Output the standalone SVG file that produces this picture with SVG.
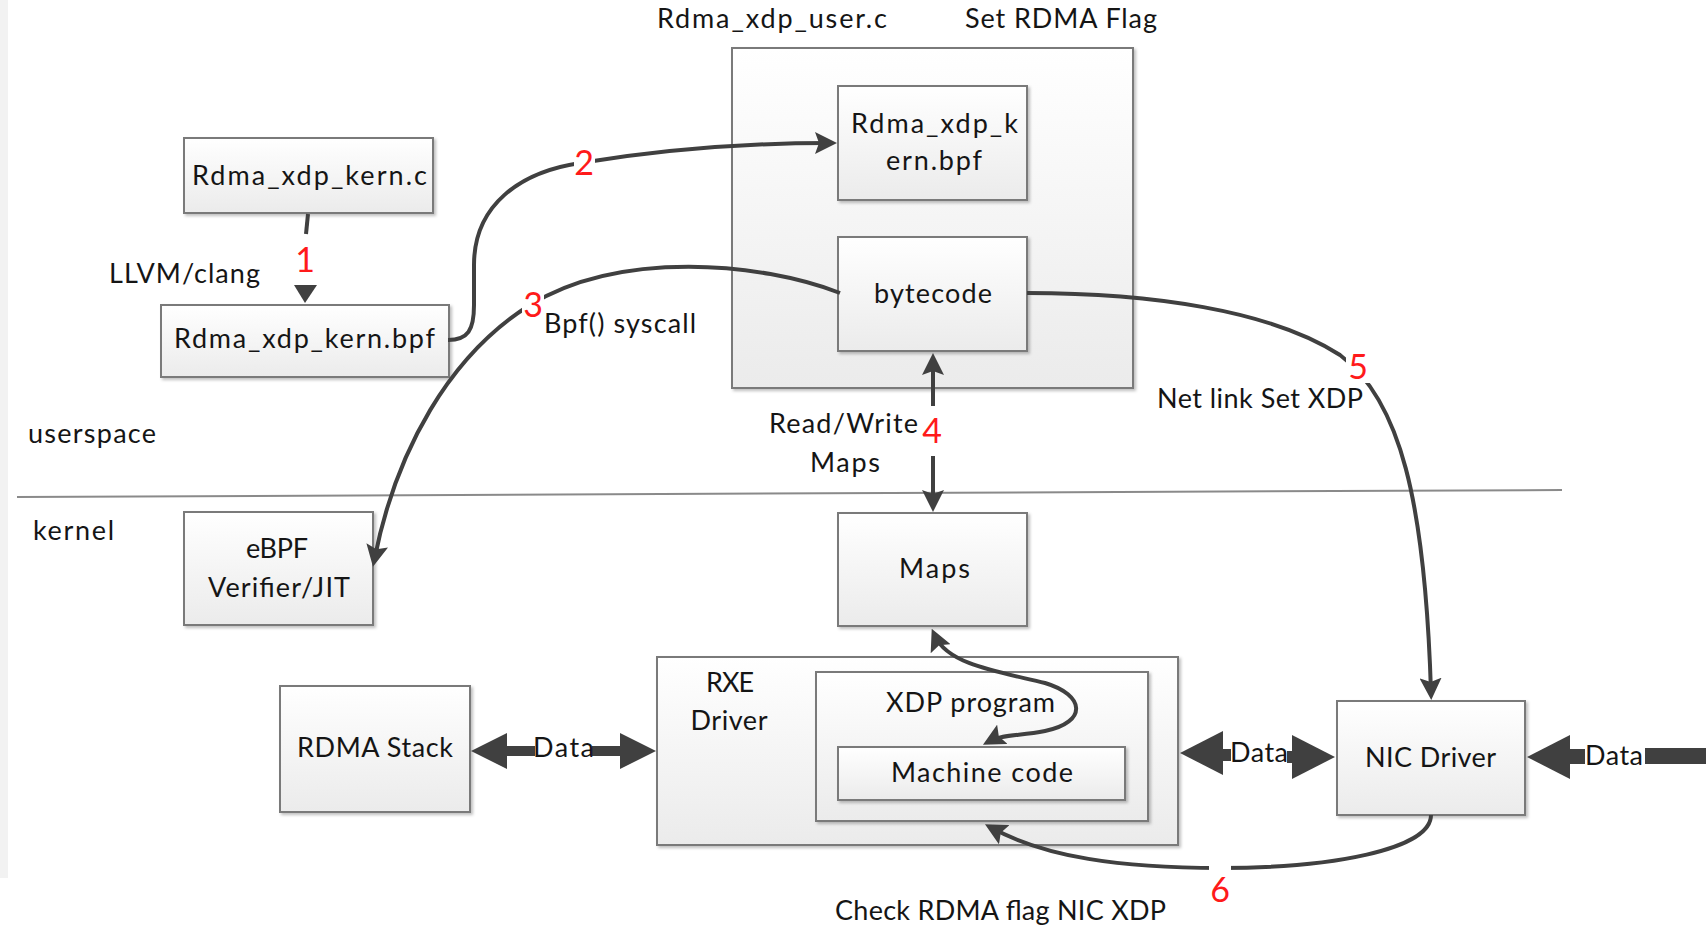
<svg xmlns="http://www.w3.org/2000/svg" width="1706" height="928" viewBox="0 0 1706 928">
<style>
.box{stroke:#7a7a7a;stroke-width:2;fill:url(#g)}
.t{font-family:Lato,"Liberation Sans",sans-serif;font-size:27px;fill:#151515}
.c{text-anchor:middle}
.n{font-family:Lato,"Liberation Sans",sans-serif;font-size:34px;fill:#ff1a1a;text-anchor:middle}
.ln{fill:none;stroke:#404040;stroke-width:4}
.ar{fill:#404040}
</style>
<defs>
<linearGradient id="g" x1="0" y1="0" x2="0" y2="1">
<stop offset="0" stop-color="#ffffff"/>
<stop offset="1" stop-color="#ebebeb"/>
</linearGradient>
<filter id="sh" x="-5%" y="-5%" width="110%" height="115%">
<feDropShadow dx="2" dy="2" stdDeviation="1.5" flood-color="#000" flood-opacity="0.25"/>
</filter>
<marker id="ah" viewBox="0 0 22 22" refX="14" refY="11" markerWidth="22" markerHeight="22" markerUnits="userSpaceOnUse" orient="auto-start-reverse">
<path d="M0,0 L22,11 L0,22 L4,11 z" fill="#404040"/>
</marker>
</defs>
<rect x="0" y="0" width="1706" height="928" fill="#ffffff"/>
<rect x="0" y="0" width="8" height="878" fill="#f2f2f2"/>
<line x1="17" y1="497" x2="1562" y2="490" stroke="#8a8a8a" stroke-width="2"/>

<g id="user-container">
<rect class="box" x="732" y="48" width="401" height="340" filter="url(#sh)"/>
</g>
<g id="rxe-driver">
<rect class="box" x="657" y="657" width="521" height="188" filter="url(#sh)"/>
<text class="t c" x="730" y="692" textLength="48">RXE</text>
<text class="t c" x="729" y="730" textLength="77">Driver</text>
</g>
<g id="xdp-program">
<rect class="box" x="816" y="672" width="332" height="149" filter="url(#sh)"/>
<text class="t" x="886" y="712" textLength="169">XDP program</text>
</g>
<g id="machine-code">
<rect class="box" x="838" y="747" width="287" height="53" filter="url(#sh)"/>
<text class="t" x="891" y="782" textLength="182">Machine code</text>
</g>
<g id="kern-c">
<rect class="box" x="184" y="138" width="249" height="75" filter="url(#sh)"/>
<text class="t" x="192" y="185" textLength="235">Rdma_xdp_kern.c</text>
</g>
<g id="kern-bpf">
<rect class="box" x="161" y="305" width="288" height="72" filter="url(#sh)"/>
<text class="t" x="174" y="348" textLength="261">Rdma_xdp_kern.bpf</text>
</g>
<g id="kern-bpf-user">
<rect class="box" x="838" y="86" width="189" height="114" filter="url(#sh)"/>
<text class="t" x="851" y="133" textLength="167">Rdma_xdp_k</text>
<text class="t" x="886" y="170" textLength="96">ern.bpf</text>
</g>
<g id="bytecode">
<rect class="box" x="838" y="237" width="189" height="114" filter="url(#sh)"/>
<text class="t" x="874" y="303" textLength="118">bytecode</text>
</g>
<g id="ebpf-verifier">
<rect class="box" x="184" y="512" width="189" height="113" filter="url(#sh)"/>
<text class="t c" x="277" y="558" textLength="62">eBPF</text>
<text class="t" x="208" y="597" textLength="142">Verifier/JIT</text>
</g>
<g id="maps">
<rect class="box" x="838" y="513" width="189" height="113" filter="url(#sh)"/>
<text class="t" x="899" y="578" textLength="71">Maps</text>
</g>
<g id="rdma-stack">
<rect class="box" x="280" y="686" width="190" height="126" filter="url(#sh)"/>
<text class="t" x="297" y="757" textLength="156">RDMA Stack</text>
</g>
<g id="nic-driver">
<rect class="box" x="1337" y="701" width="188" height="114" filter="url(#sh)"/>
<text class="t" x="1365" y="767" textLength="131">NIC Driver</text>
</g>

<g id="connectors">
<!-- 1 -->
<line x1="308" y1="214" x2="306" y2="234" stroke="#404040" stroke-width="4"/>
<polygon class="ar" points="294,285 317,285 305,303"/>
<!-- 2 -->
<path class="ln" d="M448,340 C468,340 474,330 474,305 L474,265 C474,205 520,172 580,163 C660,150 750,143 829,143" marker-end="url(#ah)"/>
<!-- 3 -->
<path class="ln" d="M840,293 C760,262 620,250 530,305 C450,355 396,450 374.5,559" marker-end="url(#ah)"/>
<!-- 4 -->
<path class="ln" d="M933,361 L933,504" marker-start="url(#ah)" marker-end="url(#ah)"/>
<!-- 5 -->
<path class="ln" d="M1027,293 C1150,293 1270,310 1340,355 C1400,400 1425,500 1431,692" marker-end="url(#ah)"/>
<!-- 6 -->
<path class="ln" d="M1431,815 C1431,850 1330,868 1220,868 C1120,868 1045,857 992,828" marker-end="url(#ah)"/>
<!-- maps <-> machine code -->
<path class="ln" d="M935,636 C948,665 1000,672 1045,683 C1085,695 1088,722 1045,731 C1020,736 1003,734 990,741" marker-start="url(#ah)" marker-end="url(#ah)"/>
<!-- Data: RDMA stack <-> RXE -->
<g class="ar">
<polygon points="471,751 507,733 507,769"/>
<rect x="505" y="746" width="30" height="10"/>
<rect x="592" y="746" width="30" height="10"/>
<polygon points="656,751 620,733 620,769"/>
</g>
<!-- Data: RXE <-> NIC -->
<g class="ar">
<polygon points="1180,753 1223,731 1223,775"/>
<rect x="1221" y="749" width="10" height="12"/>
<rect x="1287" y="751" width="8" height="12"/>
<polygon points="1335,757 1292,735 1292,779"/>
</g>
<!-- Data: into NIC -->
<g class="ar">
<polygon points="1527,757 1570,735 1570,779"/>
<rect x="1568" y="749" width="17" height="15"/>
<rect x="1645" y="748" width="61" height="16"/>
</g>
</g>

<g id="labels">
<text class="t" x="657" y="28" textLength="230">Rdma_xdp_user.c</text>
<text class="t" x="965" y="28" textLength="192">Set RDMA Flag</text>
<text class="t" x="109" y="283" textLength="151">LLVM/clang</text>
<text class="t" x="544" y="333" textLength="152">Bpf() syscall</text>
<text class="t" x="1157" y="408" textLength="206">Net link Set XDP</text>
<text class="t" x="28" y="443" textLength="128">userspace</text>
<text class="t" x="33" y="540" textLength="81">kernel</text>
<text class="t" x="769" y="433" textLength="149">Read/Write</text>
<text class="t" x="810" y="472" textLength="70">Maps</text>
<text class="t" x="533" y="757" textLength="61">Data</text>
<text class="t" x="1230" y="762" textLength="58">Data</text>
<text class="t" x="1585" y="765" textLength="58">Data</text>
<text class="t" x="835" y="920" textLength="331">Check RDMA flag NIC XDP</text>
<rect x="574" y="146" width="21" height="32" fill="#fff"/>
<rect x="522" y="290" width="22" height="30" fill="#fff"/>
<rect x="921" y="406" width="22" height="50" fill="#fff"/>
<rect x="1346" y="354" width="24" height="29" fill="#fff"/>
<rect x="1209" y="860" width="22" height="16" fill="#fff"/>
<text class="n" x="305" y="272">1</text>
<text class="n" x="584" y="175">2</text>
<text class="n" x="533" y="317">3</text>
<text class="n" x="932" y="443">4</text>
<text class="n" x="1358" y="379" font-size="32">5</text>
<text class="n" x="1220" y="902">6</text>
</g>
</svg>
